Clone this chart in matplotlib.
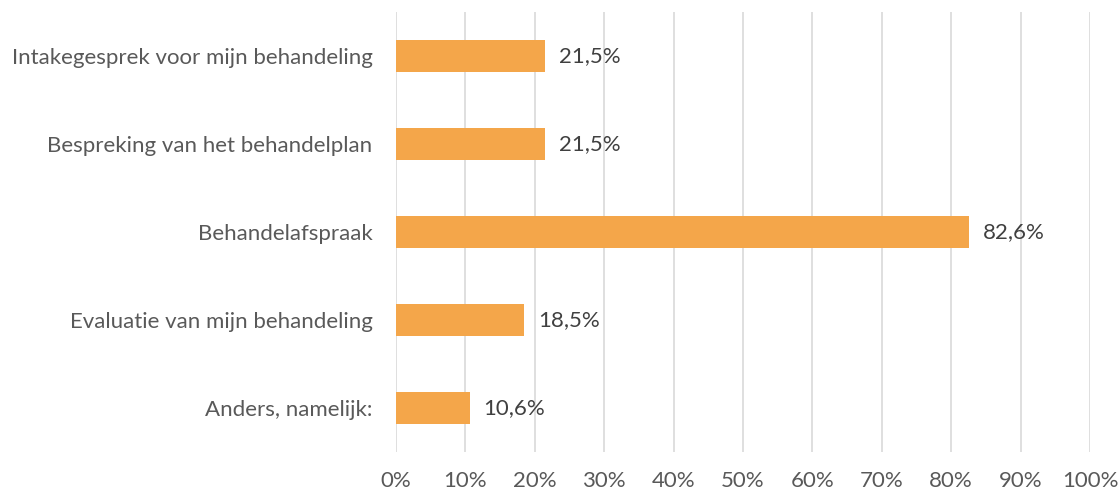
import matplotlib.pyplot as plt
from matplotlib.ticker import FuncFormatter

categories = ['Intakegesprek voor mijn behandeling', 'Bespreking van het behandelplan',
              'Behandelafspraak', 'Evaluatie van mijn behandeling', 'Anders, namelijk:']
values = [21.5, 21.5, 82.6, 18.5, 10.6]
xticks = [0, 10, 20, 30, 40, 50, 60, 70, 80, 90, 100]

plt.rcParams['font.family'] = ['Lato', 'DejaVu Sans']
text_col = '#595959'

fig = plt.figure(figsize=(11.19, 4.91), dpi=100)
ax = fig.add_axes([396 / 1119, 1 - 452 / 491, (1090 - 396) / 1119, 440 / 491])

ypos = list(range(len(categories)))
ax.barh(ypos, values, height=0.355, color='#F4A64A', zorder=3)
for y, v in zip(ypos, values):
    ax.text(v + 2.0, y, f'{v:.1f}%'.replace('.', ','), va='center', ha='left',
            fontsize=16, color='#404040')

ax.set_ylim(4.5, -0.5)
ax.set_xlim(0, 100)
ax.set_yticks(ypos)
ax.set_yticklabels(categories, fontsize=16, color=text_col)
ax.set_xticks(xticks)
ax.xaxis.set_major_formatter(FuncFormatter(lambda x, p: f'{int(x)}%'))
ax.tick_params(axis='x', labelsize=16, colors=text_col, length=0, pad=14)
ax.tick_params(axis='y', length=0, pad=17)
ax.grid(axis='x', color='#D9D9D9', linewidth=1.2, zorder=0)
for s in ax.spines.values():
    s.set_visible(False)

fig.savefig('out.png', dpi=100)
